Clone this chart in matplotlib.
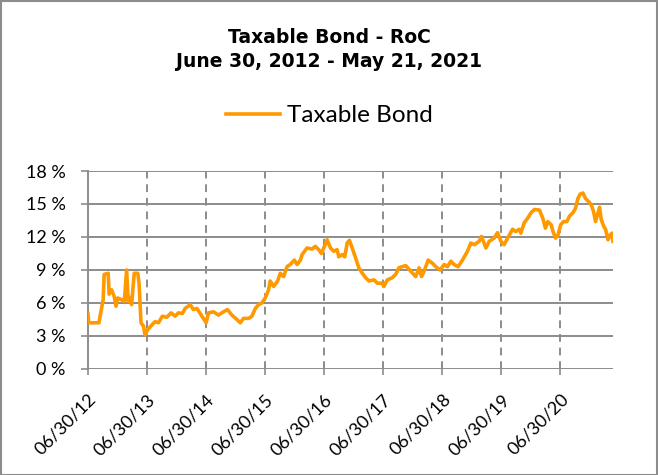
import numpy as np
import pandas as pd
import matplotlib
matplotlib.use("Agg")
import matplotlib.pyplot as plt
import matplotlib.dates as mdates
from matplotlib.patches import Rectangle

# RoC values (%)
dates = [
    "2012-06-30", "2012-07-05", "2012-09-06", "2012-09-18", "2012-10-02", "2012-10-08",
    "2012-11-02", "2012-11-08", "2012-11-23", "2012-12-09", "2012-12-20", "2012-12-31",
    "2013-01-24", "2013-02-10", "2013-02-24", "2013-03-06", "2013-03-17", "2013-03-27",
    "2013-04-12", "2013-05-04", "2013-05-12", "2013-05-24", "2013-06-08", "2013-06-18",
    "2013-07-05", "2013-07-30", "2013-08-19", "2013-09-09", "2013-10-03", "2013-10-30",
    "2013-11-26", "2013-12-21", "2014-01-10", "2014-02-04", "2014-02-21", "2014-03-24",
    "2014-04-13", "2014-05-05", "2014-06-05", "2014-07-01", "2014-07-15", "2014-08-15",
    "2014-09-15", "2014-10-16", "2014-11-10", "2014-12-07", "2015-01-07", "2015-01-28",
    "2015-02-17", "2015-03-20", "2015-04-10", "2015-05-01", "2015-05-21", "2015-06-11",
    "2015-07-01", "2015-07-22", "2015-08-01", "2015-08-22", "2015-09-16", "2015-10-02",
    "2015-10-23", "2015-11-13", "2015-12-03", "2015-12-28", "2016-01-14", "2016-02-04",
    "2016-02-14", "2016-03-16", "2016-04-16", "2016-05-06", "2016-05-27", "2016-06-13",
    "2016-06-27", "2016-07-18", "2016-08-08", "2016-08-28", "2016-09-18", "2016-09-28",
    "2016-10-19", "2016-11-04", "2016-11-19", "2016-12-03", "2016-12-20", "2017-01-10",
    "2017-01-30", "2017-02-21", "2017-03-13", "2017-04-03", "2017-05-04", "2017-05-25",
    "2017-06-24", "2017-07-04", "2017-07-25", "2017-08-25", "2017-09-15", "2017-10-05",
    "2017-10-26", "2017-11-16", "2017-12-17", "2018-01-17", "2018-02-07", "2018-02-22",
    "2018-03-10", "2018-04-04", "2018-05-01", "2018-05-21", "2018-06-17", "2018-07-12",
    "2018-08-01", "2018-08-22", "2018-09-11", "2018-10-06", "2018-11-02", "2018-12-03",
    "2018-12-24", "2019-01-14", "2019-02-13", "2019-02-28", "2019-03-27", "2019-04-16",
    "2019-05-17", "2019-06-07", "2019-06-28", "2019-07-18", "2019-08-08", "2019-09-08",
    "2019-09-28", "2019-10-19", "2019-10-29", "2019-11-19", "2019-12-10", "2019-12-31",
    "2020-01-21", "2020-02-21", "2020-03-13", "2020-03-29", "2020-04-13", "2020-05-04",
    "2020-05-15", "2020-05-31", "2020-06-15", "2020-07-01", "2020-07-19", "2020-08-09",
    "2020-08-25", "2020-09-15", "2020-10-01", "2020-10-16", "2020-10-30", "2020-11-16",
    "2020-12-02", "2020-12-23", "2021-01-07", "2021-01-21", "2021-02-02", "2021-02-17",
    "2021-02-27", "2021-03-09", "2021-03-24", "2021-04-05", "2021-04-20", "2021-05-04",
    "2021-05-16", "2021-05-21",
]
roc = [
    5.0, 4.2, 4.2, 5.2, 6.3, 8.6,
    8.7, 6.8, 7.2, 6.6, 5.7, 6.45,
    6.3, 6.15, 9.0, 6.15, 6.5, 5.85,
    8.7, 8.7, 7.8, 4.2, 3.9, 3.1,
    3.6, 4.0, 4.3, 4.2, 4.8, 4.7,
    5.1, 4.8, 5.1, 5.05, 5.5, 5.85,
    5.4, 5.5, 4.8, 4.2, 5.1, 5.2,
    4.9, 5.2, 5.4, 4.9, 4.5, 4.2,
    4.6, 4.6, 4.8, 5.5, 5.85, 6.0,
    6.45, 7.2, 8.0, 7.5, 8.0, 8.7,
    8.4, 9.3, 9.5, 9.9, 9.5, 9.9,
    10.4, 11.0, 10.9, 11.15, 10.85, 10.5,
    11.0, 11.75, 11.0, 10.7, 10.85, 10.2,
    10.4, 10.2, 11.45, 11.7, 11.0, 10.1,
    9.2, 8.7, 8.3, 8.0, 8.1, 7.8,
    7.8, 7.5, 8.1, 8.3, 8.6, 9.2,
    9.3, 9.4, 8.9, 8.4, 9.2, 8.4,
    8.9, 9.9, 9.6, 9.3, 9.0, 9.5,
    9.3, 9.8, 9.5, 9.3, 9.9, 10.7,
    11.45, 11.3, 11.6, 12.05, 11.0, 11.6,
    11.9, 12.4, 11.6, 11.3, 11.9, 12.7,
    12.5, 12.7, 12.35, 13.3, 13.7, 14.2,
    14.5, 14.45, 13.7, 12.8, 13.4, 13.1,
    12.5, 11.9, 12.2, 13.1, 13.4, 13.4,
    13.9, 14.2, 14.6, 15.5, 15.9, 16.0,
    15.5, 15.2, 14.9, 14.3, 13.4, 14.2,
    14.7, 13.6, 13.0, 12.7, 11.75, 12.2,
    12.35, 11.6,
]
tick_dates = ["2012-06-30", "2013-06-30", "2014-06-30", "2015-06-30", "2016-06-30",
              "2017-06-30", "2018-06-30", "2019-06-30", "2020-06-30"]
y_ticks = [0, 3, 6, 9, 12, 15, 18]

x = pd.to_datetime(dates)
xt = pd.to_datetime(tick_dates)

fig = plt.figure(figsize=(6.58, 4.75), dpi=100)
ax = fig.add_axes([0.1337, 0.2232, 0.7979, 0.4168])

grid_c = "#8c8c8c"
ax.plot(x, roc, color="#FF9900", lw=2.6, label="Taxable Bond", zorder=3)

ax.set_xlim(pd.Timestamp("2012-06-30"), pd.Timestamp("2021-05-21"))
ax.set_ylim(0, 18)
ax.set_yticks(y_ticks)
ax.set_yticklabels([f"{v} %" for v in y_ticks])
ax.set_xticks(xt)
ax.xaxis.set_major_formatter(mdates.DateFormatter("%m/%d/%y"))

for v in y_ticks:
    ax.axhline(v, color=grid_c, lw=1.4, zorder=1)
for d in xt[1:]:
    ax.axvline(d, color=grid_c, lw=1.4, ls=(0, (4, 3)), zorder=1)

for s in ["top", "right", "bottom"]:
    ax.spines[s].set_visible(False)
ax.spines["left"].set_color(grid_c)
ax.spines["left"].set_linewidth(1.4)

ax.tick_params(axis="both", color=grid_c, width=1.2, labelsize=13)
ax.tick_params(axis="y", length=5, pad=11)
ax.tick_params(axis="x", length=4, pad=12)
for lab in ax.get_xticklabels():
    lab.set_rotation(45)
    lab.set_ha("right")
    lab.set_rotation_mode("anchor")
for lab in ax.get_xticklabels() + ax.get_yticklabels():
    lab.set_fontfamily("Lato")

fig.text(0.5, 0.922, "Taxable Bond - RoC", ha="center", va="center",
         fontsize=13.5, fontweight="bold", family="DejaVu Sans")
fig.text(0.5, 0.871, "June 30, 2012 - May 21, 2021", ha="center", va="center",
         fontsize=13.5, fontweight="bold", family="DejaVu Sans")

ax.legend(loc="center", bbox_to_anchor=(0.5, 0.756), bbox_transform=fig.transFigure,
          frameon=False, prop={"family": "Lato", "size": 17.5}, handlelength=2.25,
          handletextpad=0.25)

fig.patches.append(Rectangle((0.001, 0.001), 0.997, 0.997, transform=fig.transFigure,
                             fill=False, edgecolor="#8c8c8c", lw=1.5))

fig.savefig("out.png", dpi=100)
